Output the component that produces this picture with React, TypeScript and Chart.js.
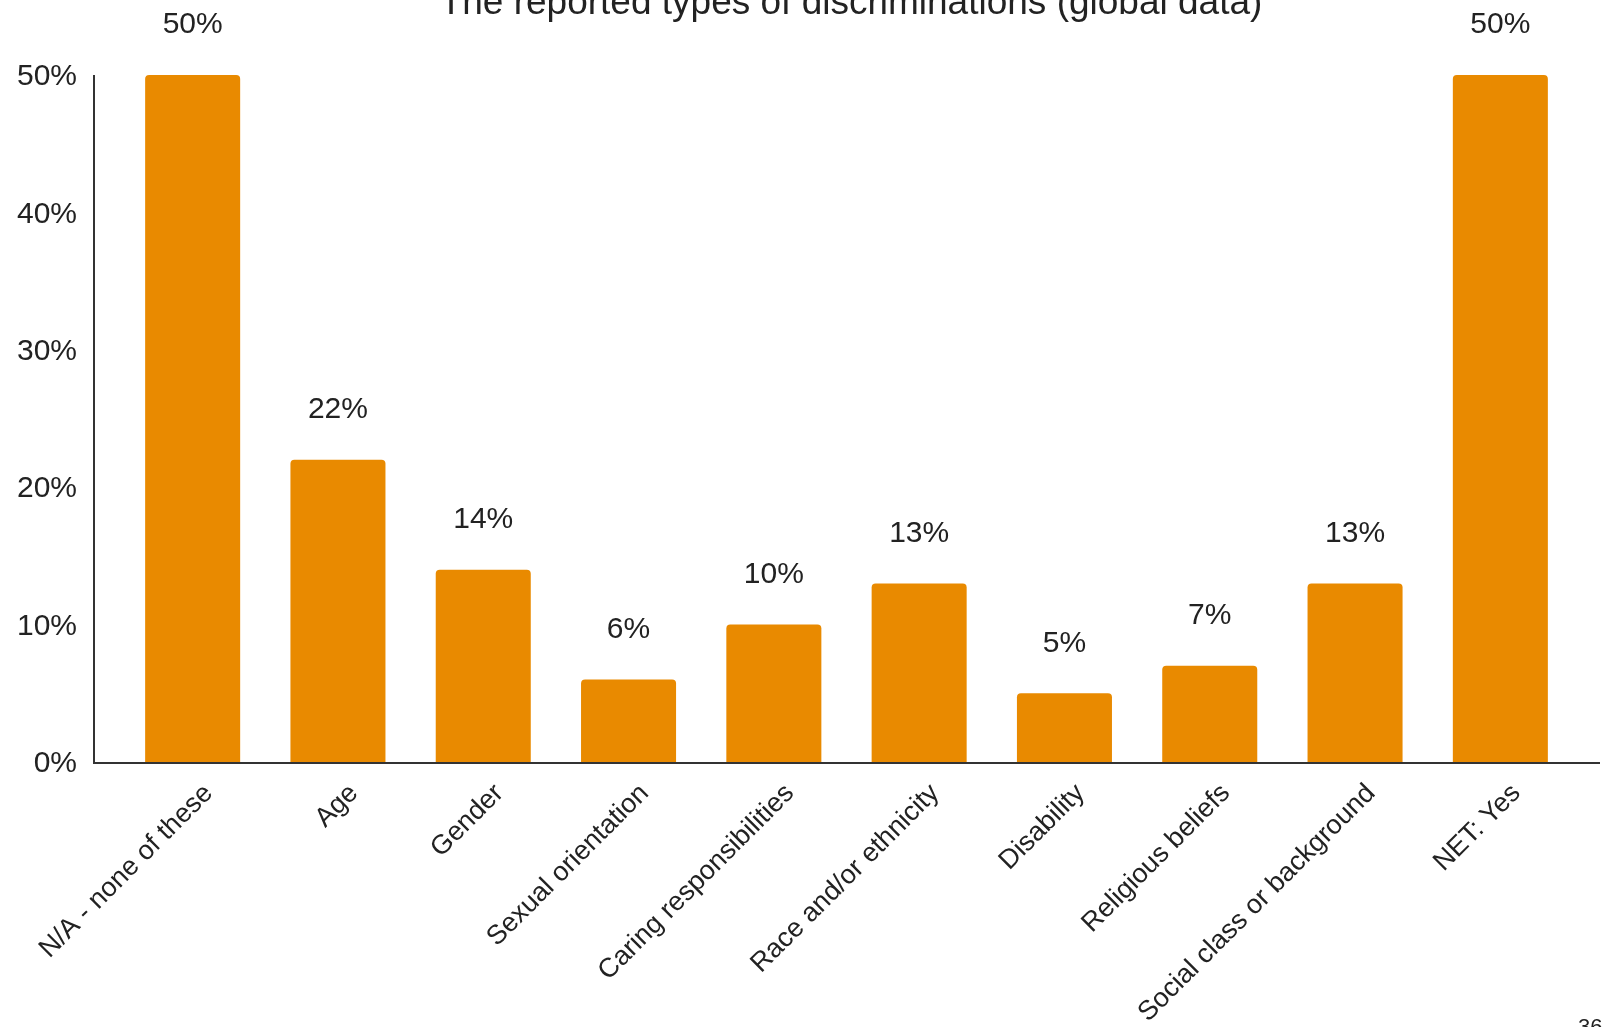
import React, { useEffect, useRef } from "react";
import { Chart, registerables } from "chart.js";

Chart.register(...registerables);

const categories = [
  "N/A - none of these",
  "Age",
  "Gender",
  "Sexual orientation",
  "Caring responsibilities",
  "Race and/or ethnicity",
  "Disability",
  "Religious beliefs",
  "Social class or background",
  "NET: Yes",
];
const values = [50, 22, 14, 6, 10, 13, 5, 7, 13, 50];
const yTicks = [0, 10, 20, 30, 40, 50];
const titleText = "The reported types of discriminations (global data)";
const pageNumber = "36";

const BAR_COLOR = "#E98A00";
const TEXT_COLOR = "#222222";
const FONT = "'Liberation Sans', Arial, sans-serif";

export default function App() {
  const canvasRef = useRef<HTMLCanvasElement | null>(null);

  useEffect(() => {
    document.body.style.margin = "0";
    const canvas = canvasRef.current;
    if (!canvas) return;

    const overlay = {
      id: "overlay",
      afterDraw(chart: any) {
        const ctx = chart.ctx;
        const area = chart.chartArea;
        const xScale = chart.scales.x;
        ctx.save();
        // axis lines
        ctx.strokeStyle = "#333333";
        ctx.lineWidth = 2;
        ctx.beginPath();
        ctx.moveTo(94, area.top);
        ctx.lineTo(94, area.bottom + 1);
        ctx.lineTo(1600, area.bottom + 1);
        ctx.stroke();

        // x category labels (rotated 45°)
        ctx.fillStyle = TEXT_COLOR;
        ctx.font = `27px ${FONT}`;
        ctx.textAlign = "right";
        ctx.textBaseline = "middle";
        categories.forEach((label, i) => {
          const px = xScale.getPixelForValue(i);
          ctx.save();
          ctx.translate(px + 16, area.bottom + 27);
          ctx.rotate(-Math.PI / 4);
          ctx.fillText(label, 0, 0);
          ctx.restore();
        });

        // data labels
        ctx.font = `30px ${FONT}`;
        ctx.textAlign = "center";
        ctx.textBaseline = "middle";
        const meta = chart.getDatasetMeta(0);
        meta.data.forEach((bar: any, i: number) => {
          ctx.fillText(`${values[i]}%`, bar.x, bar.y - 50);
        });

        // title
        ctx.font = `37px ${FONT}`;
        ctx.textBaseline = "alphabetic";
        ctx.fillText(titleText, 851, 14);

        // page number
        ctx.font = `22px ${FONT}`;
        ctx.textAlign = "left";
        ctx.textBaseline = "alphabetic";
        ctx.fillText(pageNumber, 1578, 1034);
        ctx.restore();
      },
    };

    const chart = new Chart(canvas, {
      type: "bar",
      data: {
        labels: categories,
        datasets: [
          {
            data: values,
            backgroundColor: BAR_COLOR,
            borderRadius: 4,
            borderSkipped: "start",
            barPercentage: 0.654,
            categoryPercentage: 1,
          },
        ],
      },
      options: {
        responsive: false,
        animation: false,
        layout: { padding: { top: 75, right: 37, left: 0, bottom: 0 } },
        plugins: {
          legend: { display: false },
          tooltip: { enabled: false },
          title: { display: false },
        },
        scales: {
          x: {
            grid: { display: false, drawTicks: false },
            border: { display: false },
            ticks: { display: false, autoSkip: false },
            afterFit(scale: any) {
              scale.height = 265;
              scale.paddingLeft = 0;
              scale.paddingRight = 0;
            },
          },
          y: {
            min: 0,
            max: 50,
            grid: { display: false, drawTicks: false },
            border: { display: false },
            afterBuildTicks(scale: any) {
              scale.ticks = yTicks.map((v) => ({ value: v }));
            },
            ticks: {
              color: TEXT_COLOR,
              font: { family: FONT, size: 30 },
              padding: 43,
              labelOffset: 2,
              callback: (v: any) => `${v}%`,
            },
            afterFit(scale: any) {
              scale.width = 120;
              scale.paddingTop = 0;
              scale.paddingBottom = 0;
            },
          },
        },
      },
      plugins: [overlay],
    });

    return () => chart.destroy();
  }, []);

  return (
    <div style={{ width: 1610, height: 1027, position: "relative", background: "#fff" }}>
      <canvas ref={canvasRef} width={1610} height={1027} />
    </div>
  );
}
